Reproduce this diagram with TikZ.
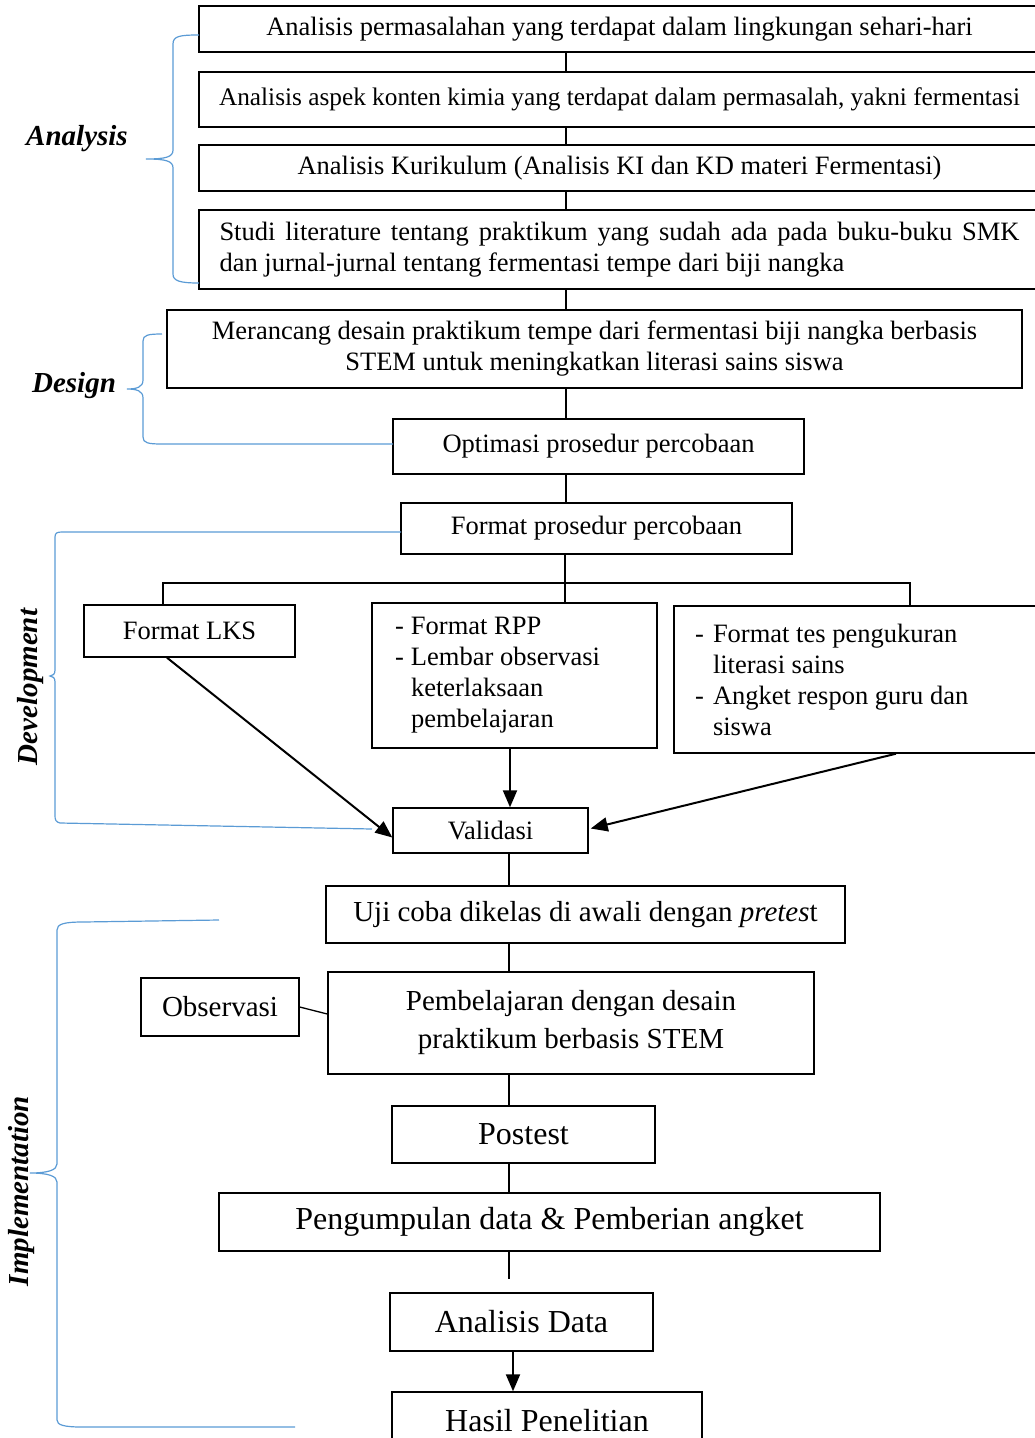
\documentclass[tikz,border=0pt]{standalone}
\usepackage{fontspec}
\setmainfont{Liberation Serif}
\usetikzlibrary{arrows.meta}
\definecolor{bracecol}{RGB}{91,155,213}

\begin{document}
\begin{tikzpicture}
  [x=1pt,y=-1pt,
   every node/.style={draw,line width=1.4pt,inner sep=0pt,font=\fontsize{26.5}{31}\selectfont},
   mid/.style={font=\fontsize{29}{38}\selectfont},
   big/.style={font=\fontsize{32}{38}\selectfont},
   phase/.style={draw=none,font=\fontsize{29}{34}\selectfont\bfseries\itshape},
   brace/.style={draw=bracecol,line width=1.2pt},
   link/.style={line width=1.3pt},
   arw/.style={->,line width=2pt},
   >={Triangle[length=17pt 0 0,width=14pt 0 0]}]
  \useasboundingbox (0,0) rectangle (1035,1438);

  \node (an1) [minimum width=841pt,minimum height=46pt] at (619.5,29) {\raisebox{-5pt}{Analisis permasalahan yang terdapat dalam lingkungan sehari-hari}};
  \node (an2) [minimum width=841pt,minimum height=55pt,font=\fontsize{25.3}{31}\selectfont] at (619.5,99.5) {Analisis aspek konten kimia yang terdapat dalam permasalah, yakni fermentasi};
  \node (an3) [minimum width=841pt,minimum height=46pt] at (619.5,168) {Analisis Kurikulum (Analisis KI dan KD materi Fermentasi)};
  \node (an4) [minimum width=841pt,minimum height=79pt,text width=800pt,align=justify] at (619.5,249.5)
    {Studi literature tentang praktikum yang sudah ada pada buku-buku SMK\linebreak dan jurnal-jurnal tentang fermentasi tempe dari biji nangka};
  \node (ds1) [minimum width=855pt,minimum height=78pt,align=center] at (594.5,349)
    {Merancang desain praktikum tempe dari fermentasi biji nangka berbasis\\STEM untuk meningkatkan literasi sains siswa};
  \node (ds2) [minimum width=411pt,minimum height=55pt] at (598.5,446.5) {Optimasi prosedur percobaan};
  \node (fp)  [minimum width=391pt,minimum height=51pt] at (596.5,528.5) {Format prosedur percobaan};
  \node (lks) [minimum width=211pt,minimum height=52pt] at (189.5,631) {Format LKS};
  \node (rpp) [minimum width=285pt,minimum height=145pt,text width=239pt,align=flush left] at (514.5,675.5)
    {\makebox[16pt][l]{-}Format RPP\\\makebox[16pt][l]{-}Lembar observasi\\\hspace*{16pt}keterlaksaan\\\hspace*{16pt}pembelajaran};
  \node (tes) [minimum width=366pt,minimum height=147pt,text width=324pt,align=flush left] at (857,679.5)
    {\makebox[18pt][l]{-}Format tes pengukuran\\\hspace*{18pt}literasi sains\\\makebox[18pt][l]{-}Angket respon guru dan\\\hspace*{18pt}siswa};
  \node (val) [minimum width=195pt,minimum height=45pt] at (490.5,830.5) {Validasi};
  \node (uji) [mid,minimum width=519pt,minimum height=57pt] at (585.5,914.5) {Uji coba dikelas di awali dengan \textit{pretes}t};
  \node (pemb) [mid,minimum width=486pt,minimum height=102pt,align=center] at (571,1023) {Pembelajaran dengan desain\\praktikum berbasis STEM};
  \node (obs) [mid,minimum width=158pt,minimum height=58pt] at (220,1007) {Observasi};
  \node (post) [big,minimum width=263pt,minimum height=57pt] at (523.5,1134.5) {Postest};
  \node (kump) [big,minimum width=661pt,minimum height=58pt] at (549.5,1222) {Pengumpulan data \& Pemberian angket};
  \node (adata) [big,minimum width=263pt,minimum height=58pt] at (521.5,1322) {Analisis Data};
  \node (hasil) [big,minimum width=310pt,minimum height=58pt] at (547,1421) {Hasil Penelitian};

  \node (lan) [phase] at (77,139) {Analysis};
  \node (lds) [phase] at (74,386) {Design};
  \node (ldv) [phase,rotate=90] at (31,687) {Development};
  \node (lim) [phase,rotate=90] at (22,1191) {Implementation};

  \coordinate (spine) at (566,0);
  \foreach \from/\to in {an1/an2,an2/an3,an3/an4,an4/ds1,ds1/ds2,ds2/fp}
    \draw [link] (\from.south -| spine) -- (\to.north -| spine);

  \coordinate (bus) at (565,583);
  \draw [link] (fp.south -| bus) -- (bus);
  \draw [link] ([xshift=-26.5pt]lks.north) |- (bus) -| ([xshift=53pt]tes.north);
  \draw [link] (bus) -- (rpp.north -| bus);

  \draw [arw] ([xshift=-22.5pt]lks.south) -- ([yshift=-7pt]val.west);
  \draw [arw] ([xshift=-4.5pt]rpp.south) -- ([xshift=19.5pt]val.north);
  \draw [arw] ([xshift=39pt]tes.south) -- ([xshift=2pt,yshift=2pt]val.east);

  \coordinate (col) at (509,0);
  \foreach \from/\to in {val/uji,uji/pemb,pemb/post,post/kump}
    \draw [link] (\from.south -| col) -- (\to.north -| col);
  \draw [link,shorten >=13pt] (kump.south -| col) -- (adata.north -| col);
  \draw [arw] ([xshift=-8.5pt]adata.south) -- ([xshift=-34pt]hasil.north);
  \draw [link] (obs.east) -- ([yshift=9pt]pemb.west);

  \draw [brace] (199,35) .. controls (180,35) and (173,36) .. (173,44) -- (173,150)
    .. controls (173,157) and (166,159) .. (146,159) .. controls (166,159) and (173,161) .. (173,168)
    -- (173,274) .. controls (173,281) and (180,283) .. (199,283);
  \draw [brace] (162,334) .. controls (148,334) and (143,335) .. (143,341) -- (143,380)
    .. controls (143,387) and (137,389) .. (127,389) .. controls (137,389) and (143,391) .. (143,398)
    -- (143,437) .. controls (143,443) and (148,444) .. (162,444) -- (393,444);
  \draw [brace] (401,532) -- (62,532) .. controls (57,532) and (55,533) .. (55,537) -- (55,670)
    .. controls (55,674) and (53,676) .. (50,676) .. controls (53,676) and (55,678) .. (55,682)
    -- (55,816) .. controls (55,820) and (56,822) .. (60,823) -- (372,829);
  \draw [brace] (219,920) -- (83,922) .. controls (64,922) and (57,924) .. (57,930) -- (57,1164)
    .. controls (57,1170) and (48,1173) .. (30,1173) .. controls (48,1173) and (57,1176) .. (57,1182)
    -- (57,1420) .. controls (57,1425) and (64,1427) .. (82,1427) -- (295,1427);
\end{tikzpicture}
\end{document}
